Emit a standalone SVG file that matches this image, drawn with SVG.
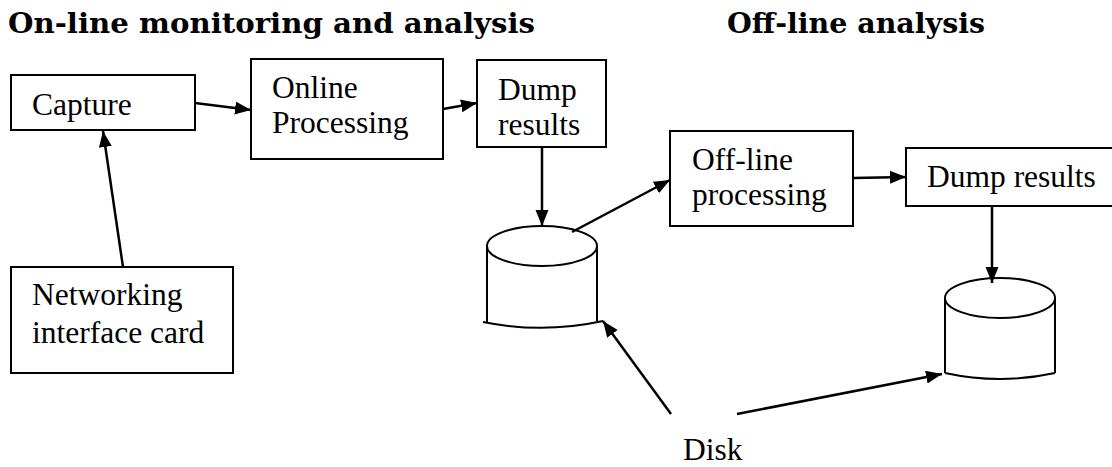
<svg xmlns="http://www.w3.org/2000/svg" width="1112" height="467" viewBox="0 0 1112 467">
  <style>
    .title { font-family: "DejaVu Serif", "Liberation Serif", serif; font-weight: bold; font-size: 27px; fill: #000; }
    .label { font-family: "Liberation Serif", "Times New Roman", serif; font-size: 31.5px; fill: #000; }
    .box { fill: #fff; stroke: #000; stroke-width: 2; }
    .disk { fill: #fff; stroke: #000; stroke-width: 2; }
    .edge { fill: none; stroke: #000; stroke-width: 2.5; marker-end: url(#arrow); }
  </style>
  <defs>
    <marker id="arrow" markerUnits="userSpaceOnUse" markerWidth="17" markerHeight="14" refX="16" refY="6.5" orient="auto">
      <path d="M0,0 L16,6.5 L0,13 Z" fill="#000"/>
    </marker>
  </defs>
  <rect width="1112" height="467" fill="#fff"/>

  <!-- section headings -->
  <text class="title" x="8" y="33" textLength="527" lengthAdjust="spacingAndGlyphs">On-line monitoring and analysis</text>
  <text class="title" x="727" y="33" textLength="258" lengthAdjust="spacingAndGlyphs">Off-line analysis</text>

  <!-- on-line pipeline -->
  <g id="capture">
    <rect class="box" x="11" y="75" width="184" height="55"/>
    <text class="label" x="32" y="115">Capture</text>
  </g>
  <g id="online-processing">
    <rect class="box" x="251" y="59" width="192" height="100"/>
    <text class="label" x="272" y="98">Online</text>
    <text class="label" x="272" y="133">Processing</text>
  </g>
  <g id="dump-results-online">
    <rect class="box" x="477" y="60" width="129" height="87"/>
    <text class="label" x="498" y="100">Dump</text>
    <text class="label" x="498" y="135">results</text>
  </g>
  <g id="nic">
    <rect class="box" x="11" y="267" width="222" height="106"/>
    <text class="label" x="32" y="305">Networking</text>
    <text class="label" x="32" y="343">interface card</text>
  </g>
  <g id="disk-online">
    <path class="disk" d="M487,246 L487,322 M597,246 L597,322"/>
    <path class="disk" fill="none" d="M483,322 Q543,334 603,321"/>
    <ellipse class="disk" cx="542" cy="246" rx="55" ry="20"/>
  </g>

  <!-- off-line pipeline -->
  <g id="offline-processing">
    <rect class="box" x="670" y="131" width="183" height="95"/>
    <text class="label" x="692" y="170">Off-line</text>
    <text class="label" x="692" y="205">processing</text>
  </g>
  <g id="dump-results-offline">
    <rect class="box" x="906" y="148" width="210" height="58"/>
    <text class="label" x="927" y="187">Dump results</text>
  </g>
  <g id="disk-offline">
    <path class="disk" d="M945,298 L945,373 M1055,298 L1055,373"/>
    <path class="disk" fill="none" d="M945,373 Q1000,385 1055,373"/>
    <ellipse class="disk" cx="1000" cy="298" rx="55" ry="20"/>
  </g>

  <g id="disk-label">
    <text class="label" x="683" y="460">Disk</text>
  </g>

  <!-- connectors -->
  <g id="connectors">
    <line class="edge" x1="123" y1="267" x2="103" y2="131"/>
    <line class="edge" x1="195" y1="103" x2="251" y2="110"/>
    <line class="edge" x1="443" y1="109" x2="477" y2="103"/>
    <line class="edge" x1="542" y1="147" x2="542" y2="226"/>
    <line class="edge" x1="572" y1="232" x2="670" y2="180"/>
    <line class="edge" x1="853" y1="178" x2="906" y2="177"/>
    <line class="edge" x1="992" y1="206" x2="992" y2="283"/>
    <line class="edge" x1="671" y1="414" x2="603" y2="321"/>
    <line class="edge" x1="737" y1="414" x2="942" y2="374"/>
  </g>
</svg>
